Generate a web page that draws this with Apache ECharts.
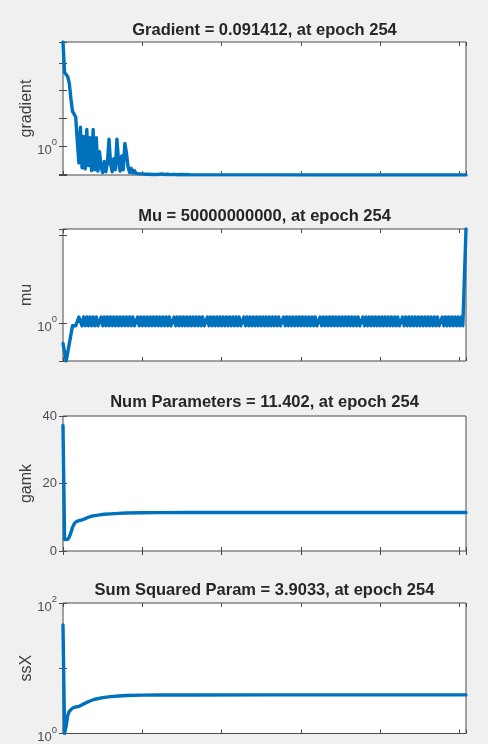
<!DOCTYPE html>
<html><head><meta charset="utf-8">
<script src="https://cdn.jsdelivr.net/npm/echarts@6/dist/echarts.min.js"></script>
<style>html,body{margin:0;padding:0;background:#f0f0f0}#c{width:488px;height:744px}</style>
</head><body><div id="c"></div>
<script>
// ---------- data ----------
const titles = [
  'Gradient = 0.091412, at epoch 254',
  'Mu = 50000000000, at epoch 254',
  'Num Parameters = 11.402, at epoch 254',
  'Sum Squared Param = 3.9033, at epoch 254'
];
const yNames = ['gradient', 'mu', 'gamk', 'ssX'];
const lastEpoch = 254;
const xTickStep = 50;

const gradEpochs = [0,1,2,3,4,5,6,7,8,9,10,11,12,13,14,15,16,17,18,19,20,21,22,23,24,25,26,27,28,29,30,31,32,33,34,35,36,37,38,39,40,41,42,43,44,45,46,47,48,49,50,51,52,53,54,55,56,57,58,59,60,62,64,66,68,70,72,74,80,100,130,160,200,230,254];
const gradValues = [5623,446.7,380.2,316.2,177.8,50.1,17.78,14.13,11.22,1.585,0.2512,4.786,0.166,2.239,0.1514,3.981,0.1995,1.995,0.1318,3.981,0.1413,1.995,0.1259,0.631,0.1778,0.1122,0.2818,0.1202,0.2512,1.778,0.2239,0.1202,0.3548,0.1413,1.778,0.2818,0.1259,0.4467,0.1413,1.259,0.5623,0.1778,0.1122,0.1585,0.1072,0.1318,0.1047,0.1175,0.1,0.1148,0.1,0.1096,0.0977,0.1072,0.0977,0.1047,0.0955,0.1023,0.0955,0.1,0.0955,0.1,0.0955,0.0977,0.0944,0.0966,0.0933,0.0955,0.0933,0.0925,0.0922,0.0919,0.0917,0.0915,0.091412];

// mu, one value per epoch 0..254
const muValues = [
  0.005,0.0005,0.00005,0.0005,0.005,0.05,0.5,0.5,0.5,0.5,
  5,5,0.5,5,0.5,5,0.5,5,0.5,5,
  0.5,5,0.5,0.5,5,0.5,5,0.5,5,0.5,
  5,0.5,5,0.5,5,0.5,5,0.5,5,0.5,
  5,0.5,5,0.5,5,0.5,0.5,5,0.5,5,
  0.5,5,0.5,5,0.5,5,0.5,5,0.5,5,
  0.5,5,0.5,5,0.5,5,0.5,5,0.5,0.5,
  5,0.5,5,0.5,5,0.5,5,0.5,5,0.5,
  5,0.5,5,0.5,5,0.5,5,0.5,5,0.5,
  0.5,5,0.5,5,0.5,5,0.5,5,0.5,5,
  0.5,5,0.5,5,0.5,5,0.5,5,0.5,5,
  0.5,5,0.5,0.5,5,0.5,5,0.5,5,0.5,
  5,0.5,5,0.5,5,0.5,5,0.5,5,0.5,
  5,0.5,5,0.5,5,0.5,5,0.5,0.5,5,
  0.5,5,0.5,5,0.5,5,0.5,5,0.5,5,
  0.5,5,0.5,5,0.5,5,0.5,5,0.5,5,
  0.5,0.5,5,0.5,5,0.5,5,0.5,5,0.5,
  5,0.5,5,0.5,5,0.5,5,0.5,5,0.5,
  5,0.5,5,0.5,5,0.5,5,0.5,0.5,5,
  0.5,5,0.5,5,0.5,5,0.5,5,0.5,5,
  0.5,5,0.5,5,0.5,5,0.5,5,0.5,5,
  0.5,5,0.5,0.5,5,0.5,5,0.5,5,0.5,
  5,0.5,5,0.5,5,0.5,5,0.5,5,0.5,
  5,0.5,5,0.5,5,0.5,5,0.5,0.5,5,
  0.5,5,0.5,5,0.5,5,0.5,5,0.5,5,
  0.5,5,0.5,0.5,50000000000
];

const gamkEpochs = [0,1,2,3,4,5,6,7,8,9,10,12,14,16,18,20,23,26,30,35,40,50,60,80,120,180,254];
const gamkValues = [37.2,3.4,3.2,3.5,4.2,5.5,7.0,8.0,8.6,8.9,9.0,9.2,9.6,10.0,10.3,10.5,10.7,10.9,11.0,11.15,11.25,11.33,11.37,11.39,11.40,11.402,11.402];
const gamkTicks = [0, 20, 40];

const ssxEpochs = [0,1,2,3,4,5,6,7,8,10,12,15,17,20,25,30,35,40,50,60,80,130,254];
const ssxValues = [46,1.0,1.3,1.9,2.2,2.35,2.45,2.5,2.55,2.6,2.75,3.0,3.15,3.35,3.55,3.68,3.76,3.82,3.87,3.89,3.9,3.903,3.9033];

// ---------- layout / style ----------
const FONT = '"Liberation Sans", Arial, Helvetica, sans-serif';
const grids = [
  {left: 63, top: 42,  width: 403, height: 133},
  {left: 63, top: 229, width: 403, height: 132},
  {left: 63, top: 416, width: 403, height: 135},
  {left: 63, top: 603, width: 403, height: 131}
];
const titleY = [30, 216.5, 402.5, 590.5];
const tickColor = '#4a4a4a';
const labelColor = '#4d4d4d';
const lineColor = '#0072bd';

const richSup = {
  b: {fontSize: 13, fontFamily: FONT, color: labelColor, padding: [8, 0, 0, 0]},
  s: {fontSize: 9.5, fontFamily: FONT, color: labelColor, padding: [0, 0, 7, 0]}
};
function logLabel(shown) {
  return function (v) {
    const l = Math.log10(v);
    const e = Math.round(l);
    if (Math.abs(l - e) > 1e-6 || shown.indexOf(e) < 0) return '';
    return '{b|10}{s|' + e + '}';
  };
}

const yDefs = [
  {type: 'log', min: gradValues[gradValues.length - 1], max: gradValues[0], fmt: logLabel([0])},
  {type: 'log', min: Math.min.apply(null, muValues), max: Math.max.apply(null, muValues), fmt: logLabel([0])},
  {type: 'value', min: gamkTicks[0], max: gamkTicks[gamkTicks.length - 1], interval: gamkTicks[1] - gamkTicks[0], fmt: null},
  {type: 'log', min: 1, max: 100, fmt: logLabel([0, 2])}
];

const xAxis = [], yAxis = [], series = [], title = [];
grids.forEach((g, i) => {
  ['bottom', 'top'].forEach(pos => xAxis.push({
    gridIndex: i, type: 'value', position: pos, min: 0, max: lastEpoch, interval: xTickStep,
    axisLine: {show: false}, axisLabel: {show: false}, splitLine: {show: false},
    axisTick: {inside: true, length: 4, lineStyle: {color: tickColor, width: 1}}
  }));
  const d = yDefs[i];
  ['left', 'right'].forEach(pos => {
    const ax = {
      gridIndex: i, type: d.type, position: pos, min: d.min, max: d.max,
      axisLine: {show: false}, splitLine: {show: false}, minorTick: {show: false},
      axisTick: {inside: true, length: 4, lineStyle: {color: tickColor, width: 1}},
      axisLabel: {show: pos === 'left', margin: 6, fontSize: 13, fontFamily: FONT, color: labelColor,
        showMinLabel: true, showMaxLabel: true}
    };
    if (d.type === 'log') ax.logBase = 10;
    if (d.interval) ax.interval = d.interval;
    if (d.fmt && pos === 'left') { ax.axisLabel.formatter = d.fmt; ax.axisLabel.rich = richSup; }
    if (pos === 'left') {
      ax.name = yNames[i];
      ax.nameLocation = 'middle';
      ax.nameGap = 28;
      ax.nameMoveOverlap = false;
      ax.nameRotate = 90;
      ax.nameTextStyle = {fontSize: 16, fontFamily: FONT, color: '#404040'};
    }
    yAxis.push(ax);
  });
  title.push({
    text: titles[i], left: 264.5, top: titleY[i], textAlign: 'center', textVerticalAlign: 'middle', padding: 0,
    textStyle: {fontSize: 16.5, fontWeight: 'bold', fontFamily: FONT, color: '#262626'}
  });
});

function pairs(xs, ys) { return xs.map((x, k) => [x, ys[k]]); }
const seriesData = [
  pairs(gradEpochs, gradValues),
  muValues.map((v, k) => [k, v]),
  pairs(gamkEpochs, gamkValues),
  pairs(ssxEpochs, ssxValues)
];
seriesData.forEach((data, i) => series.push({
  type: 'line', xAxisIndex: 2 * i, yAxisIndex: 2 * i, data: data,
  symbol: 'none', showSymbol: false, silent: true,
  lineStyle: {color: lineColor, width: 3.4, join: 'round', cap: 'round'}
}));

const chart = echarts.init(document.getElementById('c'), null, {renderer: 'canvas'});
chart.setOption({
  backgroundColor: '#f0f0f0',
  animation: false,
  title: title,
  grid: grids.map(g => Object.assign({show: true, backgroundColor: '#ffffff', borderColor: '#4a4a4a', borderWidth: 1, containLabel: false}, g)),
  xAxis: xAxis,
  yAxis: yAxis,
  series: series
});
</script></body></html>
